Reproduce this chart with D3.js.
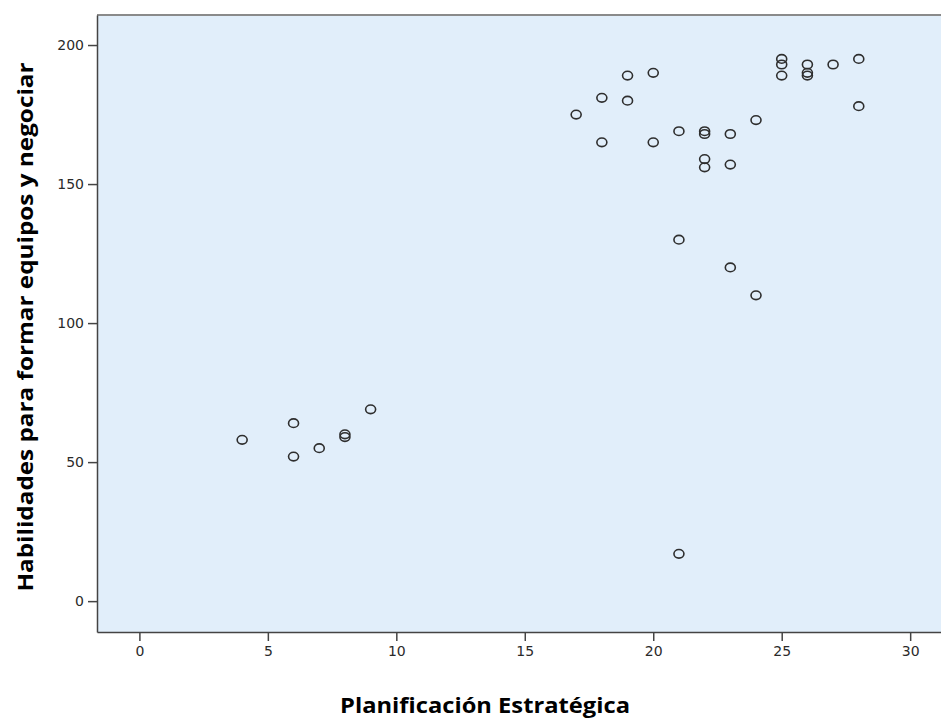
<!DOCTYPE html>
<html>
<head>
<meta charset="utf-8">
<script src="https://cdn.jsdelivr.net/npm/d3@7"></script>
<style>
  html, body { margin: 0; padding: 0; background: #fff; }
  svg { display: block; }
</style>
</head>
<body>
<svg id="chart" width="941" height="720"></svg>
<script>
// Planificación Estratégica (x) vs Habilidades para formar equipos y negociar (y)
const planificacion = [4, 6, 6, 7, 8, 8, 9, 21, 17, 18, 18, 19, 19, 20, 20, 21, 21, 22, 22, 22, 22, 23, 23, 23, 24, 24, 25, 25, 25, 26, 26, 26, 27, 28, 28];
const habilidades = [58, 64, 52, 55, 60, 59, 69, 17, 175, 181, 165, 189, 180, 190, 165, 169, 130, 169, 168, 159, 156, 168, 157, 120, 173, 110, 195, 193, 189, 193, 190, 189, 193, 195, 178];
const xTicks = [0, 5, 10, 15, 20, 25, 30];
const yTicks = [0, 50, 100, 150, 200];
const xTitle = "Planificación Estratégica";
const yTitle = "Habilidades para formar equipos y negociar";

const points = planificacion.map((d, i) => ({ x: d, y: habilidades[i] }));

const svg = d3.select('#chart');

// plot frame
const frame = { left: 97, right: 941, top: 15, bottom: 632 };

const xScale = d3.scaleLinear()
  .domain([-1.65, 31.2])
  .range([frame.left, frame.right]);

const yScale = d3.scaleLinear()
  .domain([-11.1, 210.8])
  .range([frame.bottom, frame.top]);

// background
svg.append('rect')
  .attr('x', frame.left)
  .attr('y', frame.top)
  .attr('width', frame.right - frame.left)
  .attr('height', frame.bottom - frame.top)
  .attr('fill', '#e1eefa');

// top border
svg.append('line')
  .attr('x1', frame.left).attr('x2', frame.right)
  .attr('y1', frame.top).attr('y2', frame.top)
  .attr('stroke', '#8a8a8a')
  .attr('stroke-width', 2);

// x axis
const xAxis = d3.axisBottom(xScale)
  .tickValues(xTicks)
  .tickSize(9)
  .tickSizeOuter(0)
  .tickPadding(5);

const gx = svg.append('g')
  .attr('transform', `translate(0,${frame.bottom})`)
  .call(xAxis);

// y axis
const yAxis = d3.axisLeft(yScale)
  .tickValues(yTicks)
  .tickSize(9)
  .tickSizeOuter(0)
  .tickPadding(4);

const gy = svg.append('g')
  .attr('transform', `translate(${frame.left},0)`)
  .call(yAxis);

[gx, gy].forEach(g => {
  g.select('.domain').attr('stroke', '#444').attr('stroke-width', 1.5);
  g.selectAll('.tick line').attr('stroke', '#444').attr('stroke-width', 1.5);
  g.selectAll('.tick text')
    .attr('fill', '#2a2a2a')
    .style('font-family', '"DejaVu Sans", sans-serif')
    .style('font-size', '14px');
});

// markers
svg.append('g')
  .selectAll('ellipse')
  .data(points)
  .enter()
  .append('ellipse')
  .attr('cx', d => xScale(d.x))
  .attr('cy', d => yScale(d.y))
  .attr('rx', 5)
  .attr('ry', 4.3)
  .attr('fill', 'none')
  .attr('stroke', '#2e2e2e')
  .attr('stroke-width', 1.6);

// axis titles
svg.append('text')
  .attr('x', 485)
  .attr('y', 713)
  .attr('text-anchor', 'middle')
  .attr('textLength', 290)
  .attr('lengthAdjust', 'spacingAndGlyphs')
  .style('font-family', '"Open Sans", "Noto Sans", sans-serif')
  .style('font-weight', 'bold')
  .style('font-size', '21px')
  .attr('fill', '#000')
  .text(xTitle);

svg.append('text')
  .attr('transform', 'translate(33,327) rotate(-90)')
  .attr('text-anchor', 'middle')
  .attr('textLength', 529)
  .attr('lengthAdjust', 'spacingAndGlyphs')
  .style('font-family', '"Open Sans", "Noto Sans", sans-serif')
  .style('font-weight', 'bold')
  .style('font-size', '21px')
  .attr('fill', '#000')
  .text(yTitle);
</script>
</body>
</html>
